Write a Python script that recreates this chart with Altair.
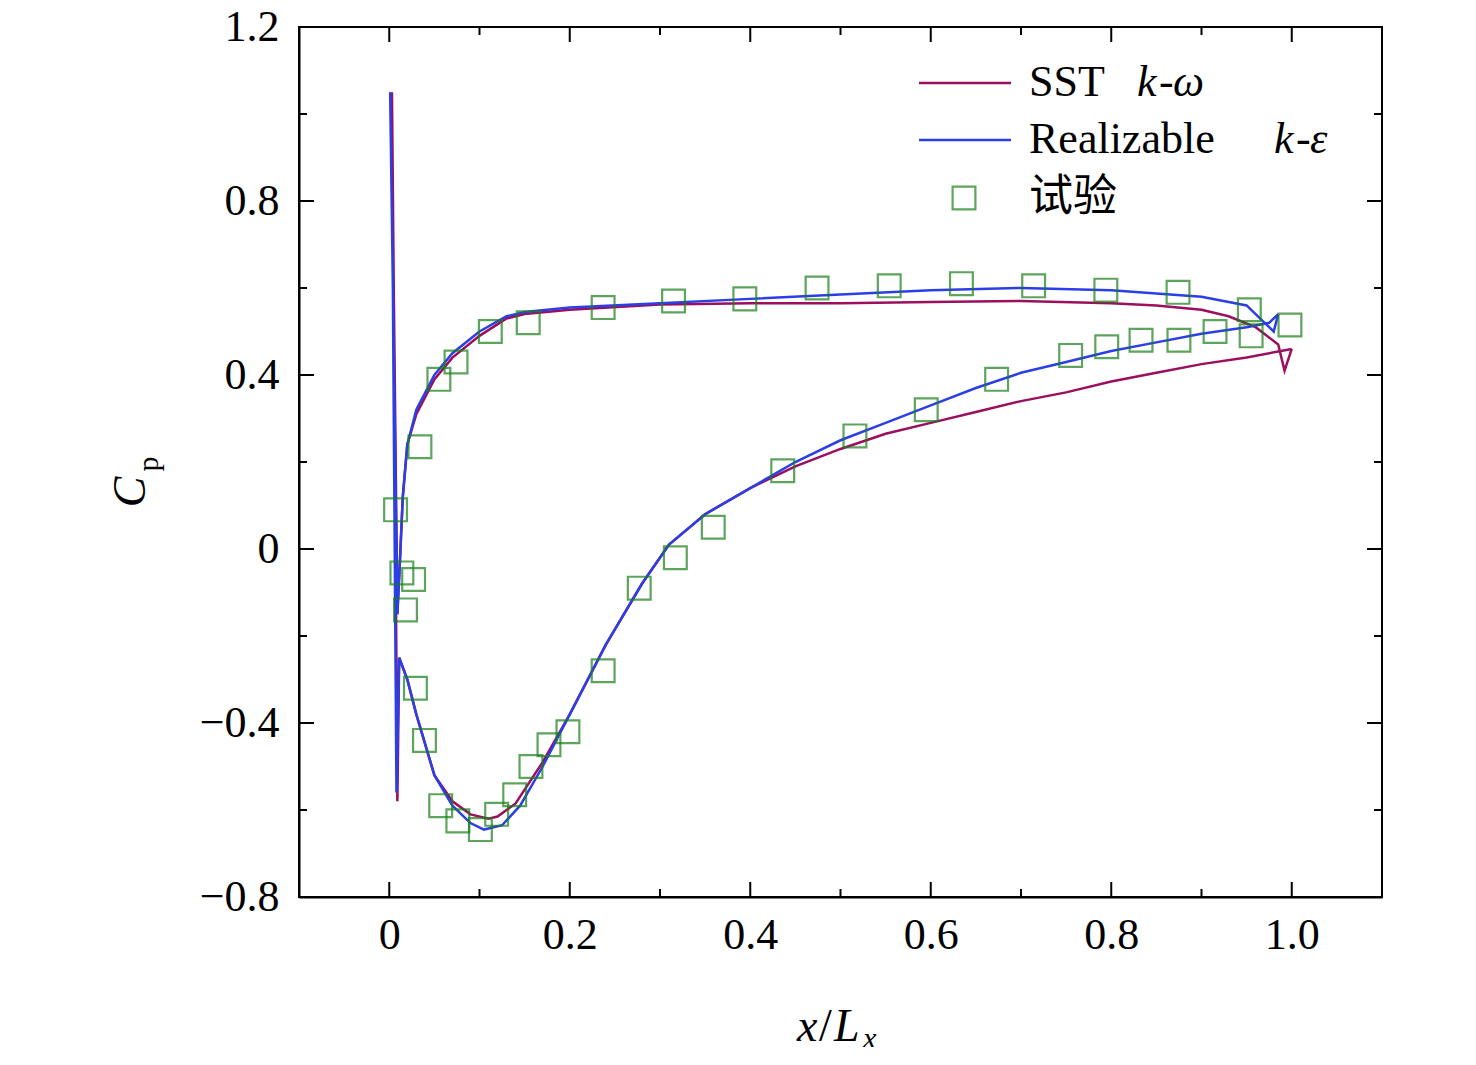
import altair as alt
import pandas as pd

FONT = "Liberation Serif"

# experiment points
exp_x = [0.007, 0.014, 0.027, 0.018, 0.029, 0.039, 0.057, 0.076, 0.101, 0.119, 0.139, 0.157,
         0.177, 0.198, 0.237, 0.277, 0.317, 0.359, 0.436, 0.516, 0.595, 0.673, 0.755, 0.795,
         0.833, 0.875, 0.915, 0.955, 0.998,
         0.953, 0.874, 0.794, 0.714, 0.634, 0.554, 0.474, 0.394, 0.315, 0.237, 0.154, 0.112,
         0.074, 0.055, 0.034]
exp_y = [0.09, -0.055, -0.07, -0.14, -0.32, -0.44, -0.59, -0.625, -0.645, -0.61, -0.565, -0.50,
         -0.45, -0.42, -0.28, -0.09, -0.02, 0.05, 0.18, 0.26, 0.32, 0.39, 0.445, 0.465,
         0.48, 0.48, 0.50, 0.49, 0.515,
         0.55, 0.59, 0.595, 0.605, 0.61, 0.605, 0.60, 0.575, 0.57, 0.555, 0.52, 0.50,
         0.43, 0.39, 0.235]

# SST k-omega path
sst_x = [1.0, 0.992, 0.985, 0.96, 0.93, 0.9, 0.85, 0.8, 0.7, 0.6, 0.5, 0.4, 0.3, 0.2, 0.15, 0.13, 0.1,
         0.07, 0.05, 0.03, 0.02, 0.015, 0.012, 0.009, 0.005, 0.003, 0.005, 0.009, 0.011,
         0.02, 0.03, 0.05, 0.07, 0.09, 0.11, 0.12, 0.14, 0.17, 0.2, 0.24, 0.28, 0.31, 0.35, 0.4,
         0.45, 0.5, 0.55, 0.6, 0.65, 0.7, 0.75, 0.8, 0.85, 0.9, 0.95, 1.0]
sst_y = [0.46, 0.41, 0.47, 0.51, 0.535, 0.55, 0.56, 0.565, 0.57, 0.568, 0.565, 0.565, 0.562, 0.55, 0.54,
         0.53, 0.49, 0.44, 0.39, 0.31, 0.24, 0.12, -0.02, -0.15, 0.6, 1.05, 0.6, -0.58, -0.25,
         -0.3, -0.38, -0.52, -0.58, -0.61, -0.62, -0.615, -0.585, -0.49, -0.38, -0.22, -0.08, 0.01,
         0.08, 0.14, 0.19, 0.23, 0.265, 0.29, 0.315, 0.34, 0.36, 0.385, 0.405, 0.425, 0.44, 0.46]

# Realizable k-epsilon path
rke_x = [0.985, 0.98, 0.97, 0.95, 0.9, 0.8, 0.7, 0.6, 0.5, 0.4, 0.3, 0.2, 0.15, 0.13, 0.1,
         0.07, 0.05, 0.03, 0.02, 0.015, 0.012, 0.009, 0.004, 0.001, 0.004, 0.008, 0.011,
         0.02, 0.03, 0.05, 0.07, 0.09, 0.105, 0.125, 0.145, 0.17, 0.2, 0.24, 0.28, 0.31, 0.35, 0.4,
         0.45, 0.5, 0.55, 0.6, 0.65, 0.7, 0.75, 0.8, 0.85, 0.9, 0.95, 0.975, 0.985]
rke_y = [0.54, 0.5, 0.52, 0.56, 0.58, 0.595, 0.6, 0.595, 0.585, 0.575, 0.565, 0.555, 0.545,
         0.535, 0.50, 0.45, 0.40, 0.32, 0.24, 0.12, -0.02, -0.15, 0.6, 1.05, 0.6, -0.56, -0.25,
         -0.3, -0.38, -0.52, -0.59, -0.63, -0.645, -0.635, -0.59, -0.5, -0.38, -0.22, -0.08, 0.01,
         0.08, 0.14, 0.2, 0.25, 0.29, 0.33, 0.37, 0.405, 0.43, 0.455, 0.475, 0.495, 0.51, 0.52, 0.54]

x_major = [0, 0.2, 0.4, 0.6, 0.8, 1.0]
x_minor = [-0.1, 0.1, 0.3, 0.5, 0.7, 0.9, 1.1]
y_major = [-0.8, -0.4, 0, 0.4, 0.8, 1.2]
y_minor = [-0.6, -0.2, 0.2, 0.6, 1.0]

W, H = 1083, 870
xs = alt.Scale(domain=[-0.1, 1.1], nice=False)
ys = alt.Scale(domain=[-0.8, 1.2], nice=False)

lines = pd.concat([
    pd.DataFrame({"x": sst_x, "y": sst_y, "o": range(len(sst_x)), "s": "SST"}),
    pd.DataFrame({"x": rke_x, "y": rke_y, "o": range(len(rke_x)), "s": "RKE"}),
])
exp = pd.DataFrame({"x": exp_x, "y": exp_y})

xaxis = alt.Axis(values=x_major, labelExpr="datum.value == 0 ? '0' : format(datum.value, '.1f')",
                 labelFont=FONT, labelFontSize=44, labelPadding=16, ticks=False,
                 domainColor="black", domainWidth=2, grid=False, title=None, labelColor="black")
yaxis = alt.Axis(values=y_major,
                 labelExpr="datum.value == 0 ? '0' : replace(format(datum.value, '.1f'), '-', '−')",
                 labelFont=FONT, labelFontSize=44, labelPadding=20, ticks=False,
                 domainColor="black", domainWidth=2, grid=False, title=None, labelColor="black")

line = alt.Chart(lines).mark_line(strokeWidth=2.5).encode(
    x=alt.X("x:Q", scale=xs, axis=xaxis),
    y=alt.Y("y:Q", scale=ys, axis=yaxis),
    color=alt.Color("s:N", scale=alt.Scale(domain=["SST", "RKE"], range=["#9B0F5E", "#2B3FE6"]), legend=None),
    detail="s:N", order="o:Q")
pts = alt.Chart(exp).mark_point(shape="square", size=520, filled=False, color="#1A7F1A", strokeWidth=2.2).encode(
    x=alt.X("x:Q", scale=xs), y=alt.Y("y:Q", scale=ys))

def xticks(vals, size):
    d = pd.DataFrame({"x": vals})
    b = alt.Chart(d).mark_rule(color="black", strokeWidth=2)
    return (b.encode(x=alt.X("x:Q", scale=xs), y=alt.value(H), y2=alt.value(H - size)) +
            b.encode(x=alt.X("x:Q", scale=xs), y=alt.value(0), y2=alt.value(size)))

def yticks(vals, size):
    d = pd.DataFrame({"y": vals})
    b = alt.Chart(d).mark_rule(color="black", strokeWidth=2)
    return (b.encode(y=alt.Y("y:Q", scale=ys), x=alt.value(0), x2=alt.value(size)) +
            b.encode(y=alt.Y("y:Q", scale=ys), x=alt.value(W), x2=alt.value(W - size)))

frame = alt.Chart(pd.DataFrame({"a": [0]})).mark_rect(fill=None, stroke="black", strokeWidth=2).encode(
    x=alt.value(0), x2=alt.value(W), y=alt.value(0), y2=alt.value(H))

def txt(t, x, y, size=44, style="normal", align="left", angle=0):
    return alt.Chart(pd.DataFrame({"t": [t]})).mark_text(
        font=FONT, fontSize=size, fontStyle=style, align=align, baseline="middle", color="black",
        angle=angle
    ).encode(text="t:N", x=alt.value(x), y=alt.value(y))

def seg(color, y):
    return alt.Chart(pd.DataFrame({"a": [0]})).mark_rule(color=color, strokeWidth=2.5).encode(
        x=alt.value(620), x2=alt.value(712), y=alt.value(y), y2=alt.value(y))

legend = (seg("#9B0F5E", 56) + seg("#2B3FE6", 113) +
          alt.Chart(pd.DataFrame({"a": [0]})).mark_point(shape="square", size=520, filled=False,
              color="#1A7F1A", strokeWidth=2.2).encode(x=alt.value(665), y=alt.value(171)) +
          txt("SST", 730, 56) + txt("k", 838, 56, style="italic") + txt("-", 860, 56) +
          txt("ω", 874, 56, style="italic") +
          txt("Realizable", 730, 113) + txt("k", 975, 113, style="italic") + txt("-", 997, 113) +
          txt("ε", 1011, 113, style="italic") +
          alt.Chart(pd.DataFrame({"t": ["试验"]})).mark_text(font="Noto Sans CJK SC", fontSize=44,
              align="left", baseline="middle", color="black").encode(
              text="t:N", x=alt.value(730), y=alt.value(171)))

titles = (txt("C", -168, 465, size=46, style="italic", align="center", angle=270) +
          txt("p", -150, 437, size=30, align="center", angle=270) +
          txt("x", 498, 1000, size=46, style="italic") + txt("/", 520, 1000, size=46) +
          txt("L", 535, 1000, size=46, style="italic") + txt("x", 564, 1012, size=30, style="italic"))

chart = alt.layer(
    frame, xticks(x_major, 15), xticks(x_minor, 8), yticks(y_major, 15), yticks(y_minor, 8),
    line, pts, legend, titles
).properties(
    width=W, height=H, autosize=alt.AutoSizeParams(type="none"),
    padding={"left": 291, "top": 19, "right": 80, "bottom": 150}
).configure_view(stroke=None)

chart.save("out.html", embed_options={"renderer": "svg", "actions": False})
